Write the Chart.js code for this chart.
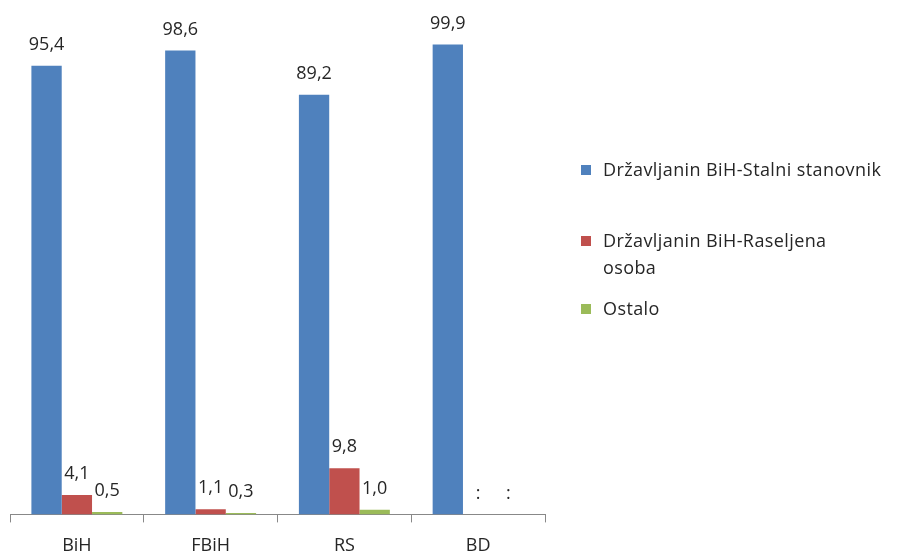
<!DOCTYPE html>
<html>
<head>
<meta charset="utf-8">
<script src="https://cdn.jsdelivr.net/npm/chart.js@4.4.1/dist/chart.umd.min.js"></script>
<style>
  html, body { margin: 0; padding: 0; background: #fff; overflow: hidden; }
  #wrap { position: relative; width: 899px; height: 554px; overflow: hidden; }
  #legend { position: absolute; left: 581px; top: 0; font: 18px 'Open Sans', sans-serif; color: #262626; letter-spacing: 0.4px; }
  .item { position: absolute; left: 0; white-space: nowrap; }
  .box { position: absolute; left: 0; width: 10px; height: 10px; }
  .txt { position: absolute; left: 22px; line-height: 27px; }
</style>
</head>
<body>
<div id="wrap">
  <canvas id="chart" width="899" height="570"></canvas>
  <div id="legend"></div>
</div>
<script>
const CATEGORIES = ['BiH', 'FBiH', 'RS', 'BD'];
const STALNI = [95.4, 98.6, 89.2, 99.9];
const RASELJENA = [4.1, 1.1, 9.8, null];
const OSTALO = [0.5, 0.3, 1.0, null];

const SERIES_LABELS = [
  'Državljanin BiH-Stalni stanovnik',
  'Državljanin BiH-Raseljena osoba',
  'Ostalo',
];
const COLORS = ['#4F81BD', '#C0504D', '#9BBB59'];

/* ---------- Legend (HTML so the long label can wrap) ---------- */

const LEGEND_ROWS = [
  { lines: ['Državljanin BiH-Stalni stanovnik'], top: 156 },
  { lines: ['Državljanin BiH-Raseljena', 'osoba'], top: 227 },
  { lines: ['Ostalo'], top: 295 },
];

function renderLegend() {
  const el = document.getElementById('legend');
  LEGEND_ROWS.forEach((row, i) => {
    const item = document.createElement('div');
    item.className = 'item';
    item.style.top = row.top + 'px';
    item.innerHTML = `
      <span class="box" style="background:${COLORS[i]};top:9px"></span>
      <span class="txt">${row.lines.join('<br>')}</span>
    `;
    el.appendChild(item);
  });
}

/* ---------- Value labels above bars ---------- */

const valueLabels = {
  id: 'valueLabels',
  afterDatasetsDraw(chart) {
    const { ctx } = chart;
    const base = chart.scales.y.getPixelForValue(0);
    ctx.save();
    ctx.font = '18px "Open Sans", sans-serif';
    ctx.fillStyle = '#262626';
    ctx.textAlign = 'center';
    ctx.textBaseline = 'middle';
    chart.data.datasets.forEach((ds, di) => {
      chart.getDatasetMeta(di).data.forEach((bar, i) => {
        const v = ds.data[i];
        const text = v == null ? ':' : v.toFixed(1).replace('.', ',');
        const top = v == null ? base : bar.y;
        ctx.fillText(text, bar.x, top - 21);
      });
    });
    ctx.restore();
  },
};

new Chart(document.getElementById('chart'), {
  type: 'bar',
  data: {
    labels: CATEGORIES,
    datasets: [STALNI, RASELJENA, OSTALO].map((d, i) => ({
      label: SERIES_LABELS[i],
      data: d,
      backgroundColor: COLORS[i],
      barPercentage: 1,
      categoryPercentage: 0.68,
    })),
  },
  options: {
    responsive: false,
    animation: false,
    layout: { padding: { left: 10, right: 354, top: 44, bottom: 0 } },
    scales: {
      x: {
        grid: {
          offset: true,
          drawOnChartArea: false,
          tickLength: 8,
          color: '#888',
        },
        border: { color: '#888', width: 1 },
        ticks: {
          padding: 13,
          color: '#262626',
          font: { family: 'Open Sans', size: 18 },
        },
      },
      y: {
        display: false,
        min: 0,
        max: 100,
      },
    },
    plugins: {
      legend: { display: false },
      tooltip: { enabled: false },
    },
  },
  plugins: [valueLabels],
});

renderLegend();
</script>
</body>
</html>
